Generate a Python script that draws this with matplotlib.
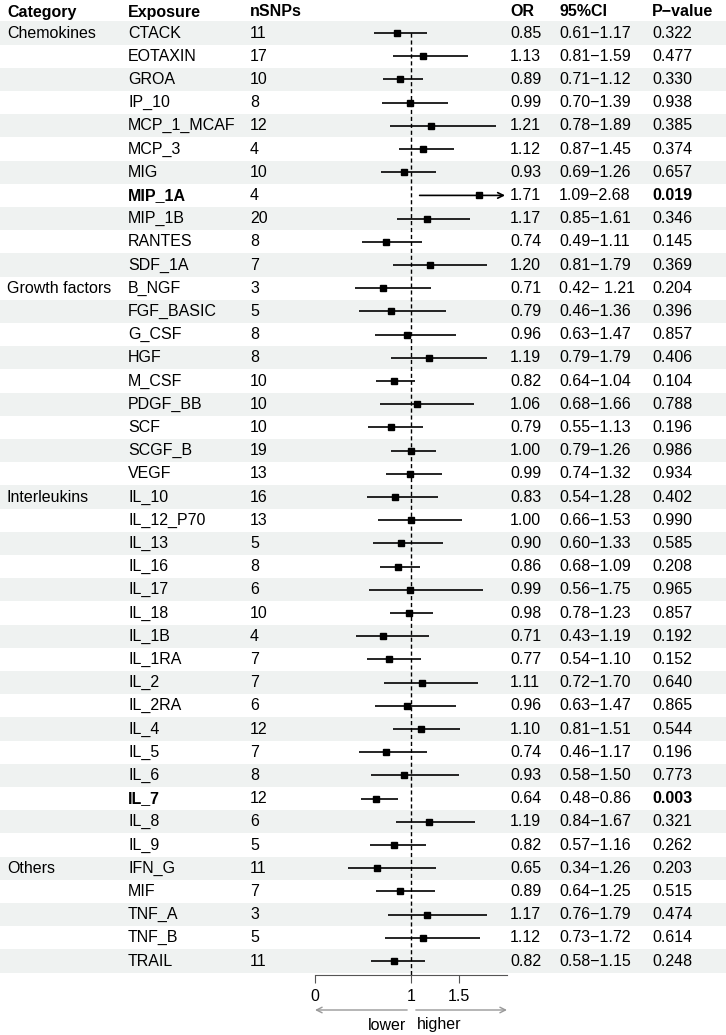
import matplotlib
matplotlib.use("Agg")
import matplotlib.pyplot as plt
from matplotlib.transforms import blended_transform_factory

plt.rcParams['font.family'] = ['Liberation Sans', 'DejaVu Sans']

# data
exposure = ["CTACK", "EOTAXIN", "GROA", "IP_10", "MCP_1_MCAF", "MCP_3", "MIG", "MIP_1A",
            "MIP_1B", "RANTES", "SDF_1A",
            "B_NGF", "FGF_BASIC", "G_CSF", "HGF", "M_CSF", "PDGF_BB", "SCF", "SCGF_B", "VEGF",
            "IL_10", "IL_12_P70", "IL_13", "IL_16", "IL_17", "IL_18", "IL_1B", "IL_1RA", "IL_2",
            "IL_2RA", "IL_4", "IL_5", "IL_6", "IL_7", "IL_8", "IL_9",
            "IFN_G", "MIF", "TNF_A", "TNF_B", "TRAIL"]
category = {0: "Chemokines", 11: "Growth factors", 20: "Interleukins", 36: "Others"}
nsnps = [11, 17, 10, 8, 12, 4, 10, 4, 20, 8, 7,
         3, 5, 8, 8, 10, 10, 10, 19, 13,
         16, 13, 5, 8, 6, 10, 4, 7, 7, 6, 12, 7, 8, 12, 6, 5,
         11, 7, 3, 5, 11]
odds = [0.85, 1.13, 0.89, 0.99, 1.21, 1.12, 0.93, 1.71, 1.17, 0.74, 1.20,
        0.71, 0.79, 0.96, 1.19, 0.82, 1.06, 0.79, 1.00, 0.99,
        0.83, 1.00, 0.90, 0.86, 0.99, 0.98, 0.71, 0.77, 1.11, 0.96, 1.10, 0.74, 0.93, 0.64, 1.19, 0.82,
        0.65, 0.89, 1.17, 1.12, 0.82]
lower = [0.61, 0.81, 0.71, 0.70, 0.78, 0.87, 0.69, 1.09, 0.85, 0.49, 0.81,
         0.42, 0.46, 0.63, 0.79, 0.64, 0.68, 0.55, 0.79, 0.74,
         0.54, 0.66, 0.60, 0.68, 0.56, 0.78, 0.43, 0.54, 0.72, 0.63, 0.81, 0.46, 0.58, 0.48, 0.84, 0.57,
         0.34, 0.64, 0.76, 0.73, 0.58]
upper = [1.17, 1.59, 1.12, 1.39, 1.89, 1.45, 1.26, 2.68, 1.61, 1.11, 1.79,
         1.21, 1.36, 1.47, 1.79, 1.04, 1.66, 1.13, 1.26, 1.32,
         1.28, 1.53, 1.33, 1.09, 1.75, 1.23, 1.19, 1.10, 1.70, 1.47, 1.51, 1.17, 1.50, 0.86, 1.67, 1.16,
         1.26, 1.25, 1.79, 1.72, 1.15]
pval = [0.322, 0.477, 0.330, 0.938, 0.385, 0.374, 0.657, 0.019, 0.346, 0.145, 0.369,
        0.204, 0.396, 0.857, 0.406, 0.104, 0.788, 0.196, 0.986, 0.934,
        0.402, 0.990, 0.585, 0.208, 0.965, 0.857, 0.192, 0.152, 0.640, 0.865, 0.544, 0.196, 0.773, 0.003,
        0.321, 0.262,
        0.203, 0.515, 0.474, 0.614, 0.248]
bold_rows = ["MIP_1A", "IL_7"]
xticks = [0, 1, 1.5]

W, H = 726, 1035
pitch = 23.2
row0 = 33.0
fs = 11.5

def px2row(py):
    return (py - row0) / pitch

fig = plt.figure(figsize=(W / 100, H / 100), dpi=100)

# table / background axes (x in pixels, y in rows)
ax = fig.add_axes([0, 0, 1, 1])
ax.set_xlim(0, W)
ax.set_ylim(px2row(H), px2row(0))
ax.axis("off")

n = len(exposure)
for i in range(0, n, 2):
    ax.axhspan(i - 0.5, i + 0.5, color="#eff2f1", lw=0, zorder=0)

hy = px2row(12)
for x, t in [(7, "Category"), (128, "Exposure"), (250, "nSNPs"),
             (510, "OR"), (559, "95%CI"), (652, "P\u2212value")]:
    ax.text(x, hy, t, fontsize=fs, fontweight="bold", va="center", ha="left")

for i in range(n):
    wt = "bold" if exposure[i] in bold_rows else "normal"
    if i in category:
        ax.text(7, i, category[i], fontsize=fs, va="center")
    ax.text(128, i, exposure[i], fontsize=fs, va="center", fontweight=wt)
    ax.text(250, i, str(nsnps[i]), fontsize=fs, va="center")
    ax.text(510, i, "%.2f" % odds[i], fontsize=fs, va="center")
    ci = "%.2f\u2212%.2f" % (lower[i], upper[i])
    if exposure[i] == "B_NGF":
        ci = "%.2f\u2212 %.2f" % (lower[i], upper[i])  # as printed in the source
    ax.text(559, i, ci, fontsize=fs, va="center")
    ax.text(652, i, "%.3f" % pval[i], fontsize=fs, va="center", fontweight=wt)

# forest axes
ax_y0 = 975
axf = fig.add_axes([315 / W, (H - ax_y0) / H, 192 / W, ax_y0 / H])
axf.set_facecolor("none")
axf.set_xlim(0, 2)
axf.set_ylim(px2row(ax_y0), px2row(0))
for s in ["left", "top", "right"]:
    axf.spines[s].set_visible(False)
axf.spines["bottom"].set_bounds(0, 2)
axf.spines["bottom"].set_color("#555555")
axf.set_yticks([])
axf.set_xticks(xticks)
axf.set_xticklabels(["0", "1", "1.5"])
axf.tick_params(axis="x", length=5.8, color="#555555", labelsize=fs, pad=4)

# reference line at OR = 1
axf.plot([1, 1], [0, px2row(ax_y0)], ls=(0, (3, 2)), color="black", lw=1.0, zorder=1)

xmax = axf.get_xlim()[1]
for i in range(n):
    if upper[i] > xmax:
        axf.annotate("", xy=(xmax - 0.02, i), xytext=(lower[i], i),
                     arrowprops=dict(arrowstyle="->", color="black", lw=1.2,
                                     shrinkA=0, shrinkB=0), zorder=2)
    else:
        axf.plot([lower[i], upper[i]], [i, i], color="black", lw=1.2, zorder=2,
                 solid_capstyle="butt")
    axf.plot(odds[i], i, marker="s", ms=5, color="black", zorder=3)

# direction arrows
tr = blended_transform_factory(axf.transData, fig.transFigure)
ya = 1 - 1010 / H
axf.annotate("", xy=(0, ya), xytext=(0.96, ya), xycoords=tr, textcoords=tr,
             arrowprops=dict(arrowstyle="->", color="#999999", lw=1, shrinkA=0, shrinkB=0),
             annotation_clip=False)
axf.annotate("", xy=(2.0, ya), xytext=(1.05, ya), xycoords=tr, textcoords=tr,
             arrowprops=dict(arrowstyle="->", color="#999999", lw=1, shrinkA=0, shrinkB=0),
             annotation_clip=False)
yt = 1 - 1025 / H
axf.text(0.95, yt, "lower", ha="right", va="center", fontsize=fs, transform=tr)
axf.text(1.06, yt, "higher", ha="left", va="center", fontsize=fs, transform=tr)

fig.savefig("out.png", dpi=100)
